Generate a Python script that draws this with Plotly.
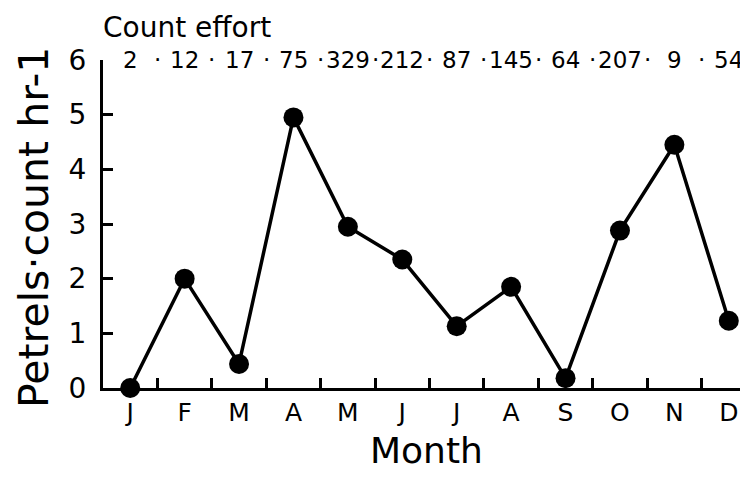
import plotly.graph_objects as go

months = ["J", "F", "M", "A", "M", "J", "J", "A", "S", "O", "N", "D"]
month_ids = ["Jan", "Feb", "Mar", "Apr", "May", "Jun", "Jul", "Aug", "Sep", "Oct", "Nov", "Dec"]
petrels_per_hr = [0.0, 2.0, 0.44, 4.95, 2.95, 2.35, 1.13, 1.85, 0.18, 2.88, 4.45, 1.23]
count_effort = [2, 12, 17, 75, 329, 212, 87, 145, 64, 207, 9, 54]
y_ticks = [0, 1, 2, 3, 4, 5, 6]

FONT = "DejaVu Sans"

fig = go.Figure()
fig.add_trace(go.Scatter(
    x=month_ids, y=petrels_per_hr, mode="lines+markers",
    line=dict(color="black", width=3.5),
    marker=dict(color="black", size=20),
    cliponaxis=False, showlegend=False,
))

for i, v in enumerate(count_effort):
    fig.add_annotation(x=i, y=6, xref="x", yref="y", text=str(v), showarrow=False,
                       font=dict(family=FONT, size=23, color="black"),
                       xanchor="center", yanchor="middle")
    if i < len(count_effort) - 1:
        fig.add_annotation(x=i + 0.5, y=6, xref="x", yref="y", text="·", showarrow=False,
                           font=dict(family=FONT, size=23, color="black"),
                           xanchor="center", yanchor="middle")

fig.add_annotation(x=-0.003, y=1.10, xref="paper", yref="paper", text="Count effort", showarrow=False,
                   font=dict(family=FONT, size=28, color="black"),
                   xanchor="left", yanchor="middle")
fig.add_annotation(x=0.495, y=-0.19, xref="paper", yref="paper", text="Month", showarrow=False,
                   font=dict(family=FONT, size=36, color="black"),
                   xanchor="center", yanchor="middle")
fig.add_annotation(x=-0.106, y=0.49, xref="paper", yref="paper", text="Petrels·count hr-1",
                   showarrow=False, textangle=-90,
                   font=dict(family=FONT, size=41, color="black"),
                   xanchor="center", yanchor="middle")

fig.update_layout(
    width=748, height=479,
    margin=dict(l=95, r=0, t=52, b=99, autoexpand=False),
    paper_bgcolor="white", plot_bgcolor="white",
    font=dict(family=FONT, color="black"),
    xaxis=dict(
        type="category", categoryorder="array", categoryarray=month_ids,
        tickmode="array", tickvals=month_ids, ticktext=months,
        tickson="boundaries", ticks="inside", ticklen=10, tickwidth=2.5, tickcolor="black",
        showline=True, linecolor="black", linewidth=3, showgrid=False, zeroline=False,
        range=[-0.5, 11.5], automargin=False,
        tickfont=dict(family=FONT, size=25, color="black"),
    ),
    yaxis=dict(
        range=[0, 6], tickvals=y_ticks, ticks="inside", ticklen=10, tickwidth=2.5, tickcolor="black",
        showline=True, linecolor="black", linewidth=3, showgrid=False, zeroline=False,
        tickfont=dict(family=FONT, size=28, color="black"), ticklabelstandoff=8, automargin=False,
    ),
)

fig.write_html("out.html")
